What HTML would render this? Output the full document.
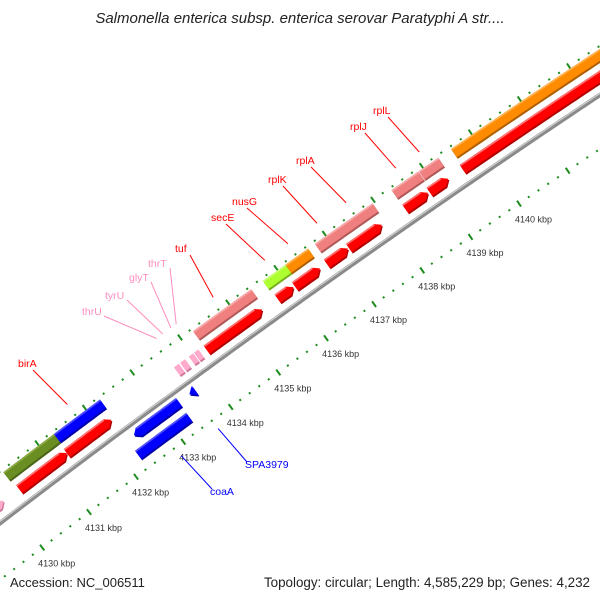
<!DOCTYPE html>
<html><head><meta charset="utf-8"><style>
html,body{margin:0;padding:0;background:#fff;}
svg{display:block;font-family:"Liberation Sans",sans-serif;}
</style></head><body>
<svg id="map" width="600" height="600" viewBox="0 0 600 600" xmlns="http://www.w3.org/2000/svg">
<rect width="600" height="600" fill="#fff"/>
<g id="rulers"></g>
<g id="backbone"></g>
<g id="features"></g>
<g id="labels"></g>
<text x="300" y="23" text-anchor="middle" font-size="15" font-style="italic" fill="#222">Salmonella enterica subsp. enterica serovar Paratyphi A str....</text>
<text x="10" y="587" font-size="13" fill="#222">Accession: NC_006511</text>
<text x="590" y="587" text-anchor="end" font-size="13.4" fill="#222">Topology: circular; Length: 4,585,229 bp; Genes: 4,232</text>
</svg>
<script>
// feature data (kbp)
var featStart = [4130.25,4131.32,4134.24,4135.69,4136.16,4136.77,4137.22,4138.35,4138.91,4139.57,
                 4130.29,4131.30,4134.24,4135.72,4136.08,4136.74,4137.20,4138.36,4138.86,4139.54,
                 4129.80,4133.62,4133.75,4133.93,4134.04,
                 4132.39,4133.56,4132.25];
var featEnd   = [4131.32,4132.29,4135.45,4136.16,4136.63,4137.22,4137.96,4138.90,4139.31,4143.50,
                 4131.30,4132.24,4135.40,4136.05,4136.60,4137.18,4137.88,4138.83,4139.25,4143.50,
                 4129.96,4133.72,4133.85,4134.02,4134.13,
                 4133.34,4133.68,4133.33];
var featRow   = [3,3,3,3,3,3,3,3,3,3, 2,2,2,2,2,2,2,2,2,2, 2,2,2,2,2, 1,1,0];
var featType  = ['olive','blue','pink','lime','orange','pink','pink','pink','pink','orange',
                 'red','red','red','red','red','red','red','red','red','red',
                 'trna','trna','trna','trna','trna',
                 'blue','blue','blue'];
var featStrand= [0,0,0,0,0,0,0,0,0,0, 1,1,1,1,1,1,1,1,1,1, 1,1,1,1,1, -1,-1,0];
// labels
var labelText = ['birA','thrU','tyrU','glyT','thrT','tuf','secE','nusG','rplK','rplA','rplJ','rplL','SPA3979','coaA'];
var labelBp   = [4131.80,4133.67,4133.80,4133.97,4134.08,4134.85,4135.92,4136.40,4137.00,4137.60,4138.62,4139.10,4133.61,4132.83];
var labelColor= ['#ff0000','#ff8fc0','#ff8fc0','#ff8fc0','#ff8fc0','#ff0000','#ff0000','#ff0000','#ff0000','#ff0000','#ff0000','#ff0000','#0000ff','#0000ff'];
var labelSide = [1,1,1,1,1,1,1,1,1,1,1,1,-1,-1];
var labelX    = [18,82,105,129,148,175,211,232,268,296,350,373,245,210];
var labelY    = [369,317,301,283,269,254,223,207,185,166,132,116,470,497];
// rulers
var tickStart = 4128.6, tickEnd = 4142.6, tickStep = 0.2;
var rulerLabels = [4130,4131,4132,4133,4134,4135,4136,4137,4138,4139,4140];

var NS='http://www.w3.org/2000/svg';
var Cx=6713, Cy=9294, R0=11000, pxPerKb=58.8;
var a0=Math.atan2(372-Cy,278-Cx);
var rowOff=[16,34,60,78];
function pos(kb,off){var a=a0+(kb-4135)*pxPerKb/R0;var r=R0+off;return [Cx+r*Math.cos(a),Cy+r*Math.sin(a)];}
function mk(tag,attrs,parent){var e=document.createElementNS(NS,tag);for(var k in attrs)e.setAttribute(k,attrs[k]);parent.appendChild(e);return e;}
function arcPts(b1,b2,off){var n=Math.max(2,Math.ceil((b2-b1)*pxPerKb/4));var p=[];for(var i=0;i<=n;i++){p.push(pos(b1+(b2-b1)*i/n,off));}return p;}
function shape(b1,b2,lo,hi,strand){
  var head=6/pxPerKb, pts=[];
  var s=b1,e=b2;
  if(strand===1&&b2-b1>head){e=b2-head;}
  if(strand===-1&&b2-b1>head){s=b1+head;}
  if(strand===-1)pts.push(pos(b1,(lo+hi)/2));
  pts=pts.concat(arcPts(s,e,hi));
  if(strand===1)pts.push(pos(b2,(lo+hi)/2));
  pts=pts.concat(arcPts(s,e,lo).reverse());
  return pts.map(function(p){return p[0].toFixed(2)+','+p[1].toFixed(2);}).join(' ');
}
var palette={red:['#ff0000','#b00000','#ff7070'],pink:['#f08080','#b05858','#f6aaaa'],orange:['#ff8c00','#b05f00','#ffb050'],
  lime:['#adff2f','#78b020','#ccff80'],olive:['#6b8e23','#4a6518','#8aaa45'],blue:['#0000ff','#0000a8','#5050ff'],trna:['#ffaacc','#d07898','#ffd0e0']};

// rulers
var rg=document.getElementById('rulers');
[0,86].forEach(function(off,ri){
  for(var b=tickStart;b<=tickEnd+1e-6;b+=tickStep){
    var kb=Math.round(b*10)/10;
    var isMajor=Math.abs(kb-Math.round(kb))<1e-6;
    var p1,p2,el;
    if(isMajor){p1=pos(kb,off-3.5);p2=pos(kb,off+3.5);}
    else{p1=pos(kb,off-1);p2=pos(kb,off+1);}
    el=mk('line',{x1:p1[0],y1:p1[1],x2:p2[0],y2:p2[1],stroke:'#1e8c1e','stroke-width':2},rg);
    
    
  }
});
rulerLabels.forEach(function(kb){
  var p=pos(kb,0);
  var t=mk('text',{x:p[0]-4,y:p[1]+19,'font-size':9,fill:'#333'},rg);
  t.textContent=kb+' kbp';
  
  
});

// backbone
var bg=document.getElementById('backbone');
var bp=arcPts(4128.5,4143.0,45).map(function(p){return p[0].toFixed(2)+','+p[1].toFixed(2);}).join(' ');
var bb1=mk('polyline',{points:bp,fill:'none',stroke:'#8a8a8a','stroke-width':4.5},bg);


var bp2=arcPts(4128.5,4143.0,46.3).map(function(p){return p[0].toFixed(2)+','+p[1].toFixed(2);}).join(' ');
var bb2=mk('polyline',{points:bp2,fill:'none',stroke:'#cfcfcf','stroke-width':1.2},bg);



// features
var fg=document.getElementById('features');
for(var i=0;i<featStart.length;i++){
  var r=rowOff[featRow[i]], c=palette[featType[i]], st=featStrand[i];
  var g=mk('g',{},fg);
  
  
  mk('polygon',{points:shape(featStart[i],featEnd[i],r-6.5,r+4,st),fill:c[1]},g);
  mk('polygon',{points:shape(featStart[i],featEnd[i],r-4.5,r+5.5,st),fill:c[0]},g);
  var hEnd=featEnd[i]-(st===1?6/pxPerKb:0), hStart=featStart[i]+(st===-1?6/pxPerKb:0);
  if(hEnd>hStart){mk('polygon',{points:shape(hStart,hEnd,r+3.8,r+5.5,0),fill:c[2]},g);}
}

// labels
var lg=document.getElementById('labels');
for(var j=0;j<labelText.length;j++){
  var off=labelSide[j]===1?99:-10;
  var p=pos(labelBp[j],off);
  var tx=labelX[j], ty=labelY[j];
  var ex=labelSide[j]===1?tx+15:tx+2, ey=labelSide[j]===1?ty+1:ty-8;
  if(labelSide[j]===1&&j>=1&&j<=4){ex=tx+22;ey=ty-1;}
  var ln=mk('line',{x1:p[0],y1:p[1],x2:ex,y2:ey,stroke:labelColor[j],'stroke-width':1},lg);
  
  
  var t=mk('text',{x:tx,y:ty-2,'font-size':10.5,fill:labelColor[j]},lg);
  t.textContent=labelText[j];
  
  
}
</script>
</body></html>
